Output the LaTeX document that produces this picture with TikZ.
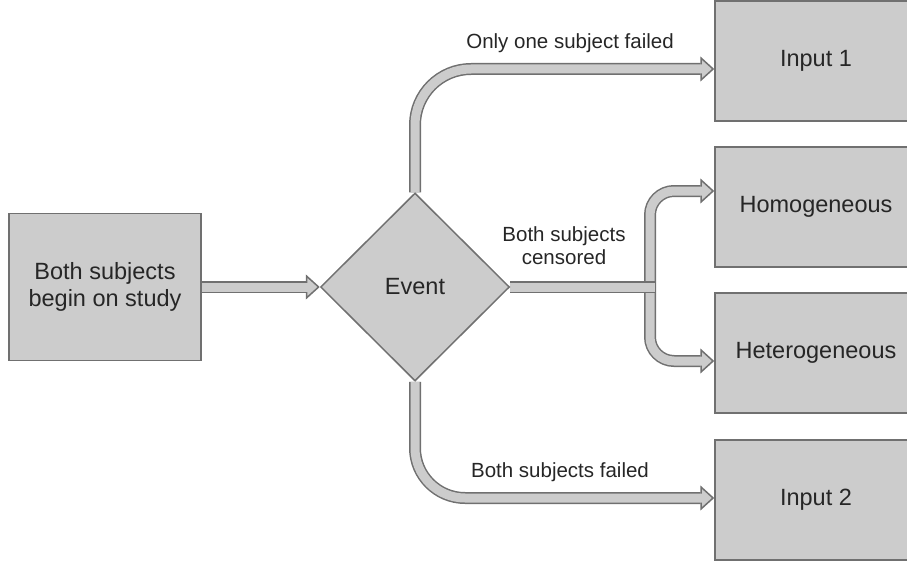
\documentclass[tikz,border=0pt]{standalone}
\usepackage{fontspec}
\setmainfont{Liberation Sans}
\usetikzlibrary{shapes.geometric,arrows.meta,positioning,backgrounds}
\definecolor{boxfill}{RGB}{204,204,204}
\definecolor{edgegray}{RGB}{112,112,112}
\tikzset{
  block/.style={rectangle, draw=edgegray, fill=boxfill, line width=1.5pt, align=center, font=\fontsize{23.5}{27}\selectfont, text=black!85, inner sep=0pt},
  outbox/.style={block, minimum width=202pt, minimum height=120pt},
  decision/.style={diamond, draw=edgegray, fill=boxfill, line width=1.5pt, font=\fontsize{23.5}{27}\selectfont, text=black!85, minimum width=189pt, minimum height=188pt, inner sep=0pt},
  lbl/.style={align=center, font=\fontsize{20.5}{23}\selectfont, text=black!85},
  pipe/.style={draw=edgegray, line width=12pt, postaction={draw=boxfill, line width=9pt}},
  flow/.style={draw=edgegray, line width=12pt, rounded corners=#1, -{Triangle[length=14pt, width=25pt, line width=1.5pt, fill=boxfill]},
    postaction={draw=boxfill, line width=9pt, -, shorten >=12pt}},
  flow/.default=1pt
}
\begin{document}
\begin{tikzpicture}[x=1pt, y=-1pt]
\useasboundingbox (0,0) rectangle (907,567);
\node[block, minimum width=192pt, minimum height=147pt] (start) at (105,287) {Both subjects\\begin on study};
\node[decision, right=118pt of start] (event) {Event};
\node[outbox] (in1) at (816,61) {Input 1};
\node[outbox, below=24.5pt of in1] (homog) {Homogeneous};
\node[outbox, below=24.5pt of homog] (hetero) {Heterogeneous};
\node[outbox, below=25.5pt of hetero] (in2) {Input 2};
\coordinate (split) at (650,287);

\node[lbl] (fail1) at (570,43.5) {Only one subject failed};
\node[lbl] (cens) at (564,246) {Both subjects\\censored};
\node[lbl] (fail2) at (560,472.5) {Both subjects failed};

\begin{scope}[on background layer]
\draw[flow] (start.east) -- (event.west);
\draw[flow=56pt] (event.north) |- ([yshift=-8pt]in1.west);
\draw[flow=50pt] (event.south) |- ([yshift=2pt]in2.west);
\draw[flow=24pt] (split) |- ([yshift=16pt]homog.west);
\draw[flow=24pt] (split) |- ([yshift=-8pt]hetero.west);
\draw[pipe] (event.east) -- ([xshift=4.5pt]split);
\end{scope}
\end{tikzpicture}
\end{document}
